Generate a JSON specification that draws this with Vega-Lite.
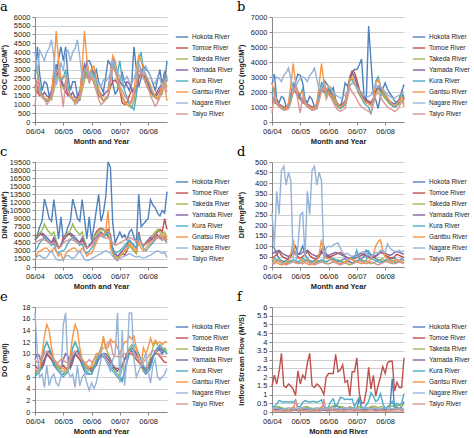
{
"$schema":"https://vega.github.io/schema/vega-lite/v6.json",
"background":"white",
"padding":{"left":0,"top":1,"right":0,"bottom":0},
"columns":2,
"spacing":{"row":1,"column":4},
"resolve":{"scale":{"color":"independent","y":"independent","x":"independent"},"legend":{"color":"independent"}},
"config":{
"view":{"stroke":null},
"title":{"font":"DejaVu Serif","fontSize":13,"fontWeight":"normal","anchor":"start","frame":"bounds","offset":-1,"color":"#000"},
"axis":{"labelFont":"Liberation Sans","labelFontSize":7.5,"labelColor":"#222","titleFont":"Liberation Sans","titleFontWeight":"bold","titleFontSize":7.5,"titleColor":"#222","tickColor":"#888","domainColor":"#888","gridColor":"#cfcfcf","tickSize":3,"labelPadding":2},
"axisY":{"minExtent":24,"maxExtent":24,"grid":true,"titlePadding":3},
"axisX":{"grid":false,"titlePadding":3,"labelFlush":false},
"line":{"strokeWidth":1.4}
},
"concat":[
{"width":132,"height":105,"title":{"text":"a"},
"data":{"values":[
{"t":0,"H":2500,"To":2100,"Ta":1800,"Y":2100,"K":2700,"G":3500,"N":4000,"Ti":900},
{"t":1,"H":4300,"To":1700,"Ta":2400,"Y":2000,"K":3000,"G":2800,"N":2800,"Ti":2500},
{"t":2,"H":2700,"To":1500,"Ta":1600,"Y":1600,"K":2000,"G":1600,"N":4100,"Ti":1700},
{"t":3,"H":1800,"To":1600,"Ta":1400,"Y":1500,"K":1500,"G":1500,"N":3800,"Ti":1500},
{"t":4,"H":2300,"To":1300,"Ta":1300,"Y":1700,"K":1300,"G":1400,"N":3500,"Ti":1300},
{"t":5,"H":2200,"To":1200,"Ta":1200,"Y":1500,"K":1200,"G":1300,"N":4000,"Ti":1000},
{"t":6,"H":1500,"To":1400,"Ta":1400,"Y":1400,"K":1200,"G":1200,"N":4200,"Ti":1200},
{"t":7,"H":1300,"To":1500,"Ta":1300,"Y":1800,"K":1500,"G":1500,"N":4700,"Ti":1400},
{"t":8,"H":2900,"To":2200,"Ta":1800,"Y":2500,"K":2200,"G":3000,"N":3700,"Ti":2000},
{"t":9,"H":2500,"To":2900,"Ta":2500,"Y":3300,"K":3100,"G":5200,"N":2100,"Ti":2800},
{"t":10,"H":3600,"To":2600,"Ta":2700,"Y":2900,"K":2800,"G":3500,"N":2600,"Ti":3000},
{"t":11,"H":4300,"To":2300,"Ta":2200,"Y":2500,"K":2400,"G":2500,"N":3400,"Ti":1900},
{"t":12,"H":3500,"To":2000,"Ta":1900,"Y":2100,"K":2500,"G":2600,"N":2900,"Ti":850},
{"t":13,"H":4300,"To":1700,"Ta":2300,"Y":2000,"K":3000,"G":2600,"N":4000,"Ti":2400},
{"t":14,"H":2600,"To":1500,"Ta":1600,"Y":1600,"K":2000,"G":1700,"N":4100,"Ti":1700},
{"t":15,"H":1800,"To":1600,"Ta":1400,"Y":1500,"K":1500,"G":1500,"N":3500,"Ti":1500},
{"t":16,"H":2300,"To":1300,"Ta":1300,"Y":1700,"K":1300,"G":1400,"N":4000,"Ti":1300},
{"t":17,"H":2300,"To":1200,"Ta":1100,"Y":1400,"K":1200,"G":1200,"N":4200,"Ti":1000},
{"t":18,"H":1500,"To":1400,"Ta":1400,"Y":1400,"K":1100,"G":1300,"N":4700,"Ti":1200},
{"t":19,"H":1200,"To":1500,"Ta":1300,"Y":1800,"K":1500,"G":1500,"N":3700,"Ti":1400},
{"t":20,"H":2900,"To":2200,"Ta":1800,"Y":2600,"K":2300,"G":3100,"N":2600,"Ti":2100},
{"t":21,"H":2600,"To":2800,"Ta":2400,"Y":3300,"K":3000,"G":5200,"N":2900,"Ti":2800},
{"t":22,"H":3500,"To":2600,"Ta":2800,"Y":2900,"K":2900,"G":3600,"N":3100,"Ti":3100},
{"t":23,"H":3500,"To":2400,"Ta":2300,"Y":2600,"K":2500,"G":2700,"N":2700,"Ti":2200},
{"t":24,"H":3200,"To":2500,"Ta":2600,"Y":3000,"K":2900,"G":3000,"N":2800,"Ti":2600},
{"t":25,"H":2700,"To":2300,"Ta":2400,"Y":2700,"K":2700,"G":3200,"N":2500,"Ti":2200},
{"t":26,"H":3000,"To":1800,"Ta":2000,"Y":2400,"K":2300,"G":2500,"N":2400,"Ti":1800},
{"t":27,"H":2300,"To":1500,"Ta":1700,"Y":1800,"K":1800,"G":1900,"N":2200,"Ti":1300},
{"t":28,"H":2000,"To":1400,"Ta":1500,"Y":1600,"K":1500,"G":1500,"N":2000,"Ti":1000},
{"t":29,"H":1700,"To":1200,"Ta":1200,"Y":1500,"K":1200,"G":1200,"N":2400,"Ti":1100},
{"t":30,"H":2600,"To":1300,"Ta":1400,"Y":1700,"K":1300,"G":1300,"N":2300,"Ti":1300},
{"t":31,"H":3500,"To":1500,"Ta":1500,"Y":1800,"K":1400,"G":1500,"N":2500,"Ti":1500},
{"t":32,"H":3300,"To":2000,"Ta":2200,"Y":2800,"K":2500,"G":2800,"N":2700,"Ti":2300},
{"t":33,"H":2200,"To":2300,"Ta":3200,"Y":3600,"K":3400,"G":3800,"N":3500,"Ti":3100},
{"t":34,"H":1600,"To":2400,"Ta":3000,"Y":3300,"K":3100,"G":3500,"N":3200,"Ti":2900},
{"t":35,"H":1800,"To":2200,"Ta":2300,"Y":2500,"K":2800,"G":2800,"N":2800,"Ti":2500},
{"t":36,"H":2400,"To":1800,"Ta":1800,"Y":2300,"K":3500,"G":2000,"N":2600,"Ti":2000},
{"t":37,"H":2800,"To":1100,"Ta":1500,"Y":2100,"K":2400,"G":1500,"N":2300,"Ti":1800},
{"t":38,"H":2300,"To":1000,"Ta":1200,"Y":2000,"K":1800,"G":1100,"N":2400,"Ti":1500},
{"t":39,"H":2100,"To":1100,"Ta":1000,"Y":2300,"K":1400,"G":1000,"N":2600,"Ti":1300},
{"t":40,"H":1800,"To":1500,"Ta":900,"Y":2200,"K":1000,"G":900,"N":2300,"Ti":1200},
{"t":41,"H":2200,"To":1800,"Ta":800,"Y":1900,"K":900,"G":1300,"N":2200,"Ti":1100},
{"t":42,"H":4300,"To":1900,"Ta":1200,"Y":1600,"K":700,"G":1800,"N":2500,"Ti":1500},
{"t":43,"H":3000,"To":1700,"Ta":2000,"Y":2000,"K":1500,"G":3000,"N":2900,"Ti":2200},
{"t":44,"H":2000,"To":2500,"Ta":3300,"Y":2900,"K":3500,"G":3800,"N":3300,"Ti":3000},
{"t":45,"H":2500,"To":2800,"Ta":3000,"Y":3000,"K":4000,"G":3500,"N":3000,"Ti":2800},
{"t":46,"H":3200,"To":2600,"Ta":2600,"Y":2700,"K":3000,"G":3000,"N":2700,"Ti":2500},
{"t":47,"H":3000,"To":2200,"Ta":2300,"Y":2500,"K":2700,"G":2600,"N":3200,"Ti":2200},
{"t":48,"H":2900,"To":1900,"Ta":2200,"Y":2200,"K":2400,"G":2400,"N":2900,"Ti":2000},
{"t":49,"H":2600,"To":1700,"Ta":1800,"Y":1800,"K":2000,"G":2100,"N":2600,"Ti":1500},
{"t":50,"H":2200,"To":1500,"Ta":1500,"Y":1600,"K":1700,"G":1700,"N":2300,"Ti":1200},
{"t":51,"H":1800,"To":1400,"Ta":1400,"Y":1500,"K":1500,"G":1500,"N":2200,"Ti":900},
{"t":52,"H":2400,"To":1600,"Ta":1300,"Y":1800,"K":1300,"G":1300,"N":2600,"Ti":1100},
{"t":53,"H":3000,"To":1800,"Ta":1500,"Y":2000,"K":1600,"G":1600,"N":2500,"Ti":1400},
{"t":54,"H":2000,"To":2000,"Ta":1600,"Y":2200,"K":2000,"G":2200,"N":2000,"Ti":1800},
{"t":55,"H":2200,"To":2900,"Ta":2400,"Y":2800,"K":2800,"G":2000,"N":2300,"Ti":2200},
{"t":56,"H":3500,"To":2500,"Ta":2000,"Y":2300,"K":2400,"G":1200,"N":2600,"Ti":1700}
]},
"transform":[{"fold":["H","To","Ta","Y","K","G","N","Ti"],"as":["r","v"]}],
"mark":{"type":"line"},
"encoding":{
"x":{"field":"t","type":"quantitative","scale":{"domain":[0,56],"nice":false,"zero":false},"axis":{"values":[0,12,24,36,48],"labelExpr":"['06/04','06/05','06/06','06/07','06/08'][datum.value/12]","title":"Month and Year"}},
"y":{"field":"v","type":"quantitative","scale":{"domain":[0,6000],"nice":false},"axis":{"values":[0,500,1000,1500,2000,2500,3000,3500,4000,4500,5000,5500,6000],"format":"d","title":"POC (MgC/M²)"}},
"color":{"field":"r","type":"nominal","scale":{"domain":["H","To","Ta","Y","K","G","N","Ti"],"range":["#4F81BD","#C0504D","#9BBB59","#8064A2","#4BACC6","#F79646","#95B3D7","#D99694"]},"legend":{"orient":"none","legendX":140,"legendY":13,"title":null,"symbolType":"stroke","symbolSize":156,"symbolStrokeWidth":2,"rowPadding":0,"labelOffset":3,"labelFont":"Liberation Sans","labelFontSize":6.5,"labelColor":"#222","labelExpr":"['Hokota River','Tomoe River','Takeda River','Yamada River','Kura River','Gantsu River','Nagare River','Taiyo River'][indexof(['H','To','Ta','Y','K','G','N','Ti'],datum.label)]"}}
}},
{"width":132,"height":105,"title":{"text":"b"},
"data":{"values":[
{"t":0,"H":2500,"To":1400,"Ta":1500,"Y":1600,"K":1800,"G":2600,"N":3100,"Ti":600},
{"t":1,"H":3200,"To":1300,"Ta":1600,"Y":1500,"K":2200,"G":2000,"N":2700,"Ti":1900},
{"t":2,"H":1500,"To":1200,"Ta":1200,"Y":1300,"K":1400,"G":1300,"N":3000,"Ti":1200},
{"t":3,"H":1300,"To":1100,"Ta":1000,"Y":1200,"K":1100,"G":1100,"N":2900,"Ti":1000},
{"t":4,"H":1700,"To":1000,"Ta":900,"Y":1100,"K":900,"G":1000,"N":2700,"Ti":900},
{"t":5,"H":1600,"To":900,"Ta":800,"Y":1000,"K":800,"G":900,"N":3100,"Ti":800},
{"t":6,"H":1000,"To":900,"Ta":900,"Y":1000,"K":900,"G":900,"N":3300,"Ti":800},
{"t":7,"H":900,"To":1100,"Ta":1000,"Y":1200,"K":1100,"G":1300,"N":3600,"Ti":900},
{"t":8,"H":1500,"To":1600,"Ta":1500,"Y":1800,"K":1800,"G":2500,"N":2900,"Ti":1300},
{"t":9,"H":2000,"To":2200,"Ta":2100,"Y":2500,"K":2600,"G":3900,"N":2000,"Ti":2100},
{"t":10,"H":2700,"To":2000,"Ta":2300,"Y":2300,"K":2400,"G":2600,"N":2300,"Ti":2300},
{"t":11,"H":3200,"To":1700,"Ta":1800,"Y":2000,"K":2000,"G":2000,"N":2700,"Ti":1400},
{"t":12,"H":3100,"To":1500,"Ta":1500,"Y":1600,"K":1800,"G":1900,"N":2900,"Ti":600},
{"t":13,"H":2600,"To":1300,"Ta":1600,"Y":1500,"K":2200,"G":2000,"N":3000,"Ti":1800},
{"t":14,"H":1500,"To":1200,"Ta":1200,"Y":1300,"K":1400,"G":1300,"N":2900,"Ti":1200},
{"t":15,"H":1300,"To":1100,"Ta":1000,"Y":1200,"K":1100,"G":1100,"N":2700,"Ti":1000},
{"t":16,"H":1700,"To":1000,"Ta":900,"Y":1100,"K":900,"G":1000,"N":3100,"Ti":900},
{"t":17,"H":1500,"To":900,"Ta":800,"Y":1000,"K":800,"G":900,"N":3300,"Ti":800},
{"t":18,"H":1000,"To":900,"Ta":900,"Y":1000,"K":900,"G":900,"N":3600,"Ti":800},
{"t":19,"H":900,"To":1100,"Ta":1000,"Y":1200,"K":1100,"G":1300,"N":2900,"Ti":900},
{"t":20,"H":1600,"To":1700,"Ta":1500,"Y":1800,"K":1800,"G":2500,"N":2100,"Ti":1400},
{"t":21,"H":2200,"To":2200,"Ta":2100,"Y":2500,"K":2600,"G":3900,"N":2300,"Ti":2100},
{"t":22,"H":2800,"To":2000,"Ta":2300,"Y":2300,"K":2400,"G":2700,"N":2600,"Ti":2300},
{"t":23,"H":2600,"To":1800,"Ta":1800,"Y":2000,"K":2000,"G":2100,"N":2500,"Ti":1500},
{"t":24,"H":2400,"To":2000,"Ta":2100,"Y":2200,"K":2300,"G":2400,"N":2400,"Ti":1900},
{"t":25,"H":2000,"To":1800,"Ta":1900,"Y":2000,"K":2100,"G":2300,"N":2200,"Ti":1600},
{"t":26,"H":2300,"To":1500,"Ta":1500,"Y":1700,"K":1800,"G":1800,"N":2000,"Ti":1300},
{"t":27,"H":1500,"To":1200,"Ta":1200,"Y":1400,"K":1400,"G":1400,"N":1800,"Ti":1000},
{"t":28,"H":1200,"To":1000,"Ta":1000,"Y":1200,"K":1100,"G":1200,"N":1700,"Ti":800},
{"t":29,"H":1000,"To":900,"Ta":900,"Y":1100,"K":900,"G":1000,"N":1600,"Ti":700},
{"t":30,"H":1600,"To":1100,"Ta":1000,"Y":1200,"K":1000,"G":1100,"N":1700,"Ti":800},
{"t":31,"H":2600,"To":1300,"Ta":1200,"Y":1400,"K":1200,"G":1300,"N":1800,"Ti":900},
{"t":32,"H":2400,"To":2000,"Ta":1800,"Y":2000,"K":2000,"G":2000,"N":2000,"Ti":1600},
{"t":33,"H":2800,"To":3000,"Ta":2700,"Y":2800,"K":2900,"G":2800,"N":2400,"Ti":2300},
{"t":34,"H":3300,"To":3400,"Ta":3000,"Y":3300,"K":2800,"G":3000,"N":2600,"Ti":2000},
{"t":35,"H":3500,"To":3300,"Ta":2600,"Y":3000,"K":2500,"G":2600,"N":2500,"Ti":1800},
{"t":36,"H":3500,"To":2800,"Ta":2200,"Y":2500,"K":2300,"G":2300,"N":2300,"Ti":1500},
{"t":37,"H":3800,"To":2200,"Ta":1800,"Y":2000,"K":1900,"G":2000,"N":2100,"Ti":1200},
{"t":38,"H":4200,"To":1800,"Ta":1600,"Y":1800,"K":1600,"G":1700,"N":2000,"Ti":1000},
{"t":39,"H":1800,"To":1500,"Ta":1400,"Y":1600,"K":1300,"G":1400,"N":1800,"Ti":900},
{"t":40,"H":1500,"To":1400,"Ta":1300,"Y":1500,"K":1100,"G":1300,"N":1700,"Ti":800},
{"t":41,"H":6400,"To":1300,"Ta":1200,"Y":1400,"K":1000,"G":1200,"N":1700,"Ti":700},
{"t":42,"H":4000,"To":1200,"Ta":1100,"Y":1300,"K":500,"G":1100,"N":1800,"Ti":600},
{"t":43,"H":1800,"To":1500,"Ta":1400,"Y":1600,"K":1500,"G":1500,"N":2200,"Ti":1200},
{"t":44,"H":1500,"To":2000,"Ta":1900,"Y":2100,"K":2700,"G":2600,"N":2500,"Ti":1800},
{"t":45,"H":900,"To":2300,"Ta":2200,"Y":2400,"K":3000,"G":2800,"N":2300,"Ti":2000},
{"t":46,"H":1700,"To":2100,"Ta":2000,"Y":2200,"K":2400,"G":2400,"N":2400,"Ti":1700},
{"t":47,"H":2200,"To":1800,"Ta":1800,"Y":2000,"K":2000,"G":2100,"N":2200,"Ti":1400},
{"t":48,"H":2600,"To":1600,"Ta":1600,"Y":1800,"K":1800,"G":1900,"N":2000,"Ti":1200},
{"t":49,"H":2200,"To":1400,"Ta":1400,"Y":1600,"K":1500,"G":1600,"N":1800,"Ti":1000},
{"t":50,"H":1900,"To":1200,"Ta":1200,"Y":1400,"K":1300,"G":1400,"N":1700,"Ti":900},
{"t":51,"H":1700,"To":1100,"Ta":1100,"Y":1300,"K":1100,"G":1200,"N":1600,"Ti":800},
{"t":52,"H":1400,"To":1000,"Ta":1000,"Y":1200,"K":1000,"G":1100,"N":1600,"Ti":700},
{"t":53,"H":1300,"To":1100,"Ta":1100,"Y":1300,"K":1100,"G":1200,"N":1700,"Ti":800},
{"t":54,"H":1500,"To":1300,"Ta":1200,"Y":1500,"K":1300,"G":1400,"N":1800,"Ti":1000},
{"t":55,"H":2000,"To":2000,"Ta":1700,"Y":2000,"K":1900,"G":1700,"N":1900,"Ti":1400},
{"t":56,"H":2500,"To":1600,"Ta":1300,"Y":1500,"K":1500,"G":1000,"N":2000,"Ti":1200}
]},
"transform":[{"fold":["H","To","Ta","Y","K","G","N","Ti"],"as":["r","v"]}],
"mark":{"type":"line"},
"encoding":{
"x":{"field":"t","type":"quantitative","scale":{"domain":[0,56],"nice":false,"zero":false},"axis":{"values":[0,12,24,36,48],"labelExpr":"['06/04','06/05','06/06','06/07','06/08'][datum.value/12]","title":"Month and Year"}},
"y":{"field":"v","type":"quantitative","scale":{"domain":[0,7000],"nice":false},"axis":{"values":[0,1000,2000,3000,4000,5000,6000,7000],"format":"d","title":"DOC (mgC/M²)"}},
"color":{"field":"r","type":"nominal","scale":{"domain":["H","To","Ta","Y","K","G","N","Ti"],"range":["#4F81BD","#C0504D","#9BBB59","#8064A2","#4BACC6","#F79646","#95B3D7","#D99694"]},"legend":{"orient":"none","legendX":140,"legendY":13,"title":null,"symbolType":"stroke","symbolSize":156,"symbolStrokeWidth":2,"rowPadding":0,"labelOffset":3,"labelFont":"Liberation Sans","labelFontSize":6.5,"labelColor":"#222","labelExpr":"['Hokota River','Tomoe River','Takeda River','Yamada River','Kura River','Gantsu River','Nagare River','Taiyo River'][indexof(['H','To','Ta','Y','K','G','N','Ti'],datum.label)]"}}
}},
{"width":132,"height":105,"title":{"text":"c"},
"data":{"values":[
{"t":0,"H":5000,"To":5500,"Ta":5000,"Y":5000,"K":3000,"G":1200,"N":1500,"Ti":4500},
{"t":1,"H":6000,"To":6000,"Ta":5800,"Y":5500,"K":3500,"G":2500,"N":2000,"Ti":4800},
{"t":2,"H":7500,"To":6200,"Ta":6300,"Y":6000,"K":4500,"G":3000,"N":2200,"Ti":5000},
{"t":3,"H":8500,"To":6000,"Ta":6800,"Y":6300,"K":5000,"G":3200,"N":1800,"Ti":5200},
{"t":4,"H":12600,"To":5500,"Ta":8000,"Y":6000,"K":5500,"G":3500,"N":1600,"Ti":5000},
{"t":5,"H":11000,"To":5000,"Ta":7000,"Y":5500,"K":5000,"G":3500,"N":1800,"Ti":4800},
{"t":6,"H":9000,"To":4500,"Ta":6500,"Y":5000,"K":4500,"G":3000,"N":2500,"Ti":4500},
{"t":7,"H":8500,"To":4200,"Ta":6000,"Y":4500,"K":4000,"G":2800,"N":3000,"Ti":4300},
{"t":8,"H":12500,"To":5000,"Ta":6500,"Y":5500,"K":4500,"G":3500,"N":2200,"Ti":4600},
{"t":9,"H":9000,"To":4000,"Ta":5000,"Y":4500,"K":3000,"G":3000,"N":1500,"Ti":4000},
{"t":10,"H":5200,"To":3500,"Ta":3500,"Y":3500,"K":2500,"G":2000,"N":1200,"Ti":3500},
{"t":11,"H":9300,"To":4000,"Ta":4000,"Y":4000,"K":3000,"G":2500,"N":1300,"Ti":3800},
{"t":12,"H":5000,"To":5500,"Ta":5000,"Y":5000,"K":3000,"G":1200,"N":1500,"Ti":4500},
{"t":13,"H":6000,"To":6000,"Ta":5800,"Y":5500,"K":3500,"G":2500,"N":2000,"Ti":4800},
{"t":14,"H":7500,"To":6200,"Ta":6300,"Y":6000,"K":4500,"G":3000,"N":2200,"Ti":5000},
{"t":15,"H":8500,"To":6000,"Ta":6800,"Y":6300,"K":5000,"G":3200,"N":1800,"Ti":5200},
{"t":16,"H":12600,"To":5500,"Ta":8000,"Y":6000,"K":5500,"G":3500,"N":1600,"Ti":5000},
{"t":17,"H":11000,"To":5000,"Ta":7000,"Y":5500,"K":5000,"G":3500,"N":1800,"Ti":4800},
{"t":18,"H":9000,"To":4500,"Ta":6500,"Y":5000,"K":4500,"G":3000,"N":2500,"Ti":4500},
{"t":19,"H":8500,"To":4200,"Ta":6000,"Y":4500,"K":4000,"G":2800,"N":3000,"Ti":4300},
{"t":20,"H":12500,"To":5000,"Ta":6500,"Y":5500,"K":4500,"G":3500,"N":2200,"Ti":4600},
{"t":21,"H":9000,"To":4000,"Ta":5000,"Y":4500,"K":3000,"G":3000,"N":1500,"Ti":4000},
{"t":22,"H":5200,"To":3500,"Ta":3500,"Y":3500,"K":2500,"G":2000,"N":1200,"Ti":3500},
{"t":23,"H":9300,"To":4000,"Ta":4000,"Y":4000,"K":3000,"G":2500,"N":1300,"Ti":3800},
{"t":24,"H":5000,"To":4500,"Ta":4500,"Y":4500,"K":3500,"G":2500,"N":1500,"Ti":4000},
{"t":25,"H":7500,"To":5500,"Ta":5500,"Y":5000,"K":4000,"G":3500,"N":1800,"Ti":4500},
{"t":26,"H":10500,"To":6500,"Ta":6000,"Y":5500,"K":5000,"G":4500,"N":2000,"Ti":5000},
{"t":27,"H":13500,"To":7000,"Ta":6500,"Y":6000,"K":5500,"G":5500,"N":2300,"Ti":5500},
{"t":28,"H":8500,"To":7200,"Ta":7000,"Y":6500,"K":6000,"G":6000,"N":2500,"Ti":5800},
{"t":29,"H":10000,"To":7000,"Ta":6800,"Y":6000,"K":5500,"G":6000,"N":2800,"Ti":5600},
{"t":30,"H":13000,"To":6500,"Ta":6500,"Y":6500,"K":6000,"G":6500,"N":3000,"Ti":5300},
{"t":31,"H":19500,"To":7000,"Ta":6000,"Y":5500,"K":6500,"G":10500,"N":2800,"Ti":5500},
{"t":32,"H":18500,"To":6000,"Ta":5500,"Y":5000,"K":5500,"G":3500,"N":2600,"Ti":5200},
{"t":33,"H":8000,"To":3000,"Ta":3500,"Y":3500,"K":3000,"G":2500,"N":2000,"Ti":4500},
{"t":34,"H":4500,"To":1500,"Ta":2000,"Y":2500,"K":2500,"G":1500,"N":1500,"Ti":4000},
{"t":35,"H":5500,"To":1200,"Ta":1500,"Y":2000,"K":2800,"G":1500,"N":1300,"Ti":4200},
{"t":36,"H":6500,"To":2000,"Ta":2200,"Y":2500,"K":3000,"G":2000,"N":1500,"Ti":4500},
{"t":37,"H":5500,"To":2500,"Ta":2500,"Y":3000,"K":3500,"G":2500,"N":1800,"Ti":4700},
{"t":38,"H":6000,"To":2200,"Ta":3000,"Y":3500,"K":4000,"G":3000,"N":2000,"Ti":5000},
{"t":39,"H":5000,"To":3000,"Ta":3200,"Y":4000,"K":4500,"G":3500,"N":2200,"Ti":5200},
{"t":40,"H":6500,"To":4000,"Ta":4000,"Y":5000,"K":5000,"G":4500,"N":2500,"Ti":5500},
{"t":41,"H":7000,"To":3500,"Ta":3500,"Y":4500,"K":4500,"G":4000,"N":2300,"Ti":5300},
{"t":42,"H":5500,"To":3000,"Ta":3000,"Y":4000,"K":4000,"G":3500,"N":2000,"Ti":5000},
{"t":43,"H":4500,"To":2500,"Ta":2500,"Y":3500,"K":3500,"G":3000,"N":1800,"Ti":4800},
{"t":44,"H":13500,"To":6500,"Ta":5500,"Y":5500,"K":6000,"G":4500,"N":2000,"Ti":5000},
{"t":45,"H":7500,"To":4500,"Ta":4500,"Y":4500,"K":4500,"G":3500,"N":1800,"Ti":4500},
{"t":46,"H":8000,"To":4000,"Ta":4000,"Y":4000,"K":3500,"G":3000,"N":1700,"Ti":4200},
{"t":47,"H":8500,"To":4200,"Ta":4500,"Y":4500,"K":3000,"G":3500,"N":1800,"Ti":4300},
{"t":48,"H":9000,"To":4500,"Ta":5000,"Y":5000,"K":3500,"G":4000,"N":2000,"Ti":4500},
{"t":49,"H":12500,"To":5000,"Ta":5500,"Y":5500,"K":4000,"G":4500,"N":2200,"Ti":4700},
{"t":50,"H":11500,"To":5500,"Ta":6000,"Y":5000,"K":4500,"G":5000,"N":2500,"Ti":5000},
{"t":51,"H":11000,"To":6000,"Ta":6500,"Y":5500,"K":5000,"G":5000,"N":2800,"Ti":5200},
{"t":52,"H":10000,"To":6500,"Ta":7000,"Y":6000,"K":5500,"G":5500,"N":3000,"Ti":5500},
{"t":53,"H":9500,"To":7000,"Ta":6500,"Y":5500,"K":6000,"G":6000,"N":2800,"Ti":5200},
{"t":54,"H":10500,"To":6500,"Ta":6000,"Y":5000,"K":5500,"G":5500,"N":2500,"Ti":5000},
{"t":55,"H":10000,"To":9000,"Ta":6500,"Y":5500,"K":5000,"G":6000,"N":2800,"Ti":5300},
{"t":56,"H":14000,"To":7000,"Ta":5500,"Y":5000,"K":4500,"G":5000,"N":1700,"Ti":4800}
]},
"transform":[{"fold":["H","To","Ta","Y","K","G","N","Ti"],"as":["r","v"]}],
"mark":{"type":"line"},
"encoding":{
"x":{"field":"t","type":"quantitative","scale":{"domain":[0,56],"nice":false,"zero":false},"axis":{"values":[0,12,24,36,48],"labelExpr":"['06/04','06/05','06/06','06/07','06/08'][datum.value/12]","title":"Month and Year"}},
"y":{"field":"v","type":"quantitative","scale":{"domain":[0,19500],"nice":false},"axis":{"values":[0,1500,3000,4500,6000,7500,9000,10500,12000,13500,15000,16500,18000,19500],"format":"d","title":"DIN (mgN/M²)"}},
"color":{"field":"r","type":"nominal","scale":{"domain":["H","To","Ta","Y","K","G","N","Ti"],"range":["#4F81BD","#C0504D","#9BBB59","#8064A2","#4BACC6","#F79646","#95B3D7","#D99694"]},"legend":{"orient":"none","legendX":140,"legendY":13,"title":null,"symbolType":"stroke","symbolSize":156,"symbolStrokeWidth":2,"rowPadding":0,"labelOffset":3,"labelFont":"Liberation Sans","labelFontSize":6.5,"labelColor":"#222","labelExpr":"['Hokota River','Tomoe River','Takeda River','Yamada River','Kura River','Gnatsu River','Nagare River','Taiyo River'][indexof(['H','To','Ta','Y','K','G','N','Ti'],datum.label)]"}}
}},
{"width":132,"height":105,"title":{"text":"d"},
"data":{"values":[
{"t":0,"H":100,"To":40,"Ta":20,"Y":60,"K":30,"G":40,"N":260,"Ti":20},
{"t":1,"H":90,"To":50,"Ta":25,"Y":70,"K":40,"G":30,"N":100,"Ti":15},
{"t":2,"H":60,"To":60,"Ta":30,"Y":75,"K":35,"G":20,"N":360,"Ti":25},
{"t":3,"H":40,"To":75,"Ta":35,"Y":80,"K":25,"G":15,"N":250,"Ti":30},
{"t":4,"H":30,"To":55,"Ta":25,"Y":70,"K":20,"G":10,"N":460,"Ti":20},
{"t":5,"H":25,"To":45,"Ta":20,"Y":60,"K":15,"G":15,"N":480,"Ti":15},
{"t":6,"H":30,"To":40,"Ta":15,"Y":55,"K":20,"G":20,"N":390,"Ti":10},
{"t":7,"H":40,"To":35,"Ta":20,"Y":50,"K":25,"G":30,"N":450,"Ti":15},
{"t":8,"H":60,"To":50,"Ta":25,"Y":60,"K":30,"G":60,"N":410,"Ti":20},
{"t":9,"H":80,"To":70,"Ta":30,"Y":75,"K":35,"G":130,"N":30,"Ti":25},
{"t":10,"H":100,"To":60,"Ta":25,"Y":70,"K":30,"G":60,"N":20,"Ti":20},
{"t":11,"H":60,"To":50,"Ta":20,"Y":60,"K":25,"G":40,"N":100,"Ti":15},
{"t":12,"H":70,"To":40,"Ta":20,"Y":60,"K":30,"G":40,"N":250,"Ti":20},
{"t":13,"H":100,"To":50,"Ta":25,"Y":70,"K":40,"G":30,"N":260,"Ti":15},
{"t":14,"H":60,"To":60,"Ta":30,"Y":75,"K":35,"G":20,"N":50,"Ti":25},
{"t":15,"H":40,"To":75,"Ta":35,"Y":80,"K":25,"G":15,"N":360,"Ti":30},
{"t":16,"H":30,"To":55,"Ta":25,"Y":70,"K":20,"G":10,"N":250,"Ti":20},
{"t":17,"H":25,"To":45,"Ta":20,"Y":60,"K":15,"G":15,"N":460,"Ti":15},
{"t":18,"H":30,"To":40,"Ta":15,"Y":55,"K":20,"G":20,"N":480,"Ti":10},
{"t":19,"H":40,"To":35,"Ta":20,"Y":50,"K":25,"G":30,"N":390,"Ti":15},
{"t":20,"H":60,"To":50,"Ta":25,"Y":60,"K":30,"G":60,"N":450,"Ti":20},
{"t":21,"H":80,"To":70,"Ta":30,"Y":75,"K":35,"G":130,"N":410,"Ti":25},
{"t":22,"H":100,"To":60,"Ta":25,"Y":70,"K":30,"G":60,"N":30,"Ti":20},
{"t":23,"H":60,"To":50,"Ta":20,"Y":60,"K":25,"G":40,"N":90,"Ti":15},
{"t":24,"H":50,"To":45,"Ta":15,"Y":55,"K":30,"G":40,"N":100,"Ti":15},
{"t":25,"H":40,"To":50,"Ta":20,"Y":60,"K":35,"G":35,"N":95,"Ti":20},
{"t":26,"H":35,"To":55,"Ta":25,"Y":65,"K":40,"G":30,"N":105,"Ti":25},
{"t":27,"H":30,"To":60,"Ta":30,"Y":70,"K":35,"G":25,"N":110,"Ti":20},
{"t":28,"H":25,"To":65,"Ta":35,"Y":65,"K":30,"G":20,"N":115,"Ti":15},
{"t":29,"H":30,"To":70,"Ta":30,"Y":60,"K":25,"G":15,"N":90,"Ti":10},
{"t":30,"H":35,"To":60,"Ta":25,"Y":55,"K":20,"G":20,"N":70,"Ti":15},
{"t":31,"H":40,"To":50,"Ta":20,"Y":50,"K":25,"G":25,"N":60,"Ti":20},
{"t":32,"H":30,"To":45,"Ta":15,"Y":45,"K":30,"G":30,"N":65,"Ti":25},
{"t":33,"H":25,"To":40,"Ta":10,"Y":40,"K":35,"G":40,"N":55,"Ti":20},
{"t":34,"H":20,"To":35,"Ta":15,"Y":45,"K":40,"G":35,"N":50,"Ti":15},
{"t":35,"H":25,"To":40,"Ta":20,"Y":50,"K":45,"G":30,"N":55,"Ti":20},
{"t":36,"H":30,"To":45,"Ta":25,"Y":55,"K":80,"G":25,"N":60,"Ti":25},
{"t":37,"H":35,"To":50,"Ta":30,"Y":60,"K":40,"G":20,"N":65,"Ti":30},
{"t":38,"H":40,"To":55,"Ta":35,"Y":65,"K":30,"G":15,"N":70,"Ti":25},
{"t":39,"H":50,"To":60,"Ta":30,"Y":60,"K":25,"G":20,"N":75,"Ti":20},
{"t":40,"H":80,"To":50,"Ta":25,"Y":55,"K":30,"G":30,"N":60,"Ti":15},
{"t":41,"H":70,"To":45,"Ta":20,"Y":50,"K":80,"G":25,"N":55,"Ti":20},
{"t":42,"H":60,"To":40,"Ta":15,"Y":45,"K":40,"G":40,"N":50,"Ti":25},
{"t":43,"H":50,"To":45,"Ta":20,"Y":50,"K":35,"G":60,"N":60,"Ti":20},
{"t":44,"H":40,"To":50,"Ta":25,"Y":55,"K":30,"G":100,"N":70,"Ti":15},
{"t":45,"H":35,"To":60,"Ta":30,"Y":60,"K":25,"G":120,"N":65,"Ti":10},
{"t":46,"H":30,"To":70,"Ta":35,"Y":70,"K":20,"G":130,"N":80,"Ti":15},
{"t":47,"H":25,"To":65,"Ta":40,"Y":75,"K":25,"G":80,"N":75,"Ti":20},
{"t":48,"H":30,"To":55,"Ta":30,"Y":65,"K":30,"G":50,"N":70,"Ti":25},
{"t":49,"H":35,"To":50,"Ta":25,"Y":60,"K":40,"G":40,"N":110,"Ti":30},
{"t":50,"H":40,"To":45,"Ta":20,"Y":55,"K":35,"G":30,"N":90,"Ti":25},
{"t":51,"H":45,"To":40,"Ta":15,"Y":60,"K":30,"G":25,"N":80,"Ti":20},
{"t":52,"H":40,"To":50,"Ta":20,"Y":70,"K":25,"G":30,"N":75,"Ti":15},
{"t":53,"H":35,"To":60,"Ta":25,"Y":75,"K":20,"G":35,"N":70,"Ti":20},
{"t":54,"H":30,"To":55,"Ta":30,"Y":70,"K":30,"G":30,"N":80,"Ti":25},
{"t":55,"H":40,"To":50,"Ta":25,"Y":65,"K":25,"G":25,"N":70,"Ti":20},
{"t":56,"H":30,"To":45,"Ta":20,"Y":60,"K":20,"G":20,"N":80,"Ti":15}
]},
"transform":[{"fold":["H","To","Ta","Y","K","G","N","Ti"],"as":["r","v"]}],
"mark":{"type":"line"},
"encoding":{
"x":{"field":"t","type":"quantitative","scale":{"domain":[0,56],"nice":false,"zero":false},"axis":{"values":[0,12,24,36,48],"labelExpr":"['06/04','06/05','06/06','06/07','06/08'][datum.value/12]","title":"Month and Year"}},
"y":{"field":"v","type":"quantitative","scale":{"domain":[0,500],"nice":false},"axis":{"values":[0,50,100,150,200,250,300,350,400,450,500],"format":"d","title":"DIP (mgP/M²)"}},
"color":{"field":"r","type":"nominal","scale":{"domain":["H","To","Ta","Y","K","G","N","Ti"],"range":["#4F81BD","#C0504D","#9BBB59","#8064A2","#4BACC6","#F79646","#95B3D7","#D99694"]},"legend":{"orient":"none","legendX":140,"legendY":13,"title":null,"symbolType":"stroke","symbolSize":156,"symbolStrokeWidth":2,"rowPadding":0,"labelOffset":3,"labelFont":"Liberation Sans","labelFontSize":6.5,"labelColor":"#222","labelExpr":"['Hokota River','Tomoe River','Takeda River','Yamada River','Kura River','Gantbu River','Nagare River','Taiyo River'][indexof(['H','To','Ta','Y','K','G','N','Ti'],datum.label)]"}}
}},
{"width":132,"height":105,"title":{"text":"e"},
"data":{"values":[
{"t":0,"H":6.5,"To":8,"Ta":7,"Y":9,"K":6,"G":7.5,"N":17,"Ti":9},
{"t":1,"H":7,"To":7.5,"Ta":6.5,"Y":10,"K":6.5,"G":7,"N":10,"Ti":8.5},
{"t":2,"H":7,"To":7.5,"Ta":7,"Y":9.5,"K":7,"G":7.5,"N":6,"Ti":8.5},
{"t":3,"H":8,"To":8,"Ta":9,"Y":7.5,"K":9,"G":10,"N":6.5,"Ti":9},
{"t":4,"H":9,"To":9,"Ta":11,"Y":8.5,"K":11,"G":13,"N":4.2,"Ti":10},
{"t":5,"H":10,"To":9.8,"Ta":12,"Y":10,"K":12,"G":15,"N":8,"Ti":10.5},
{"t":6,"H":9.5,"To":9.5,"Ta":11,"Y":10.5,"K":11,"G":14,"N":4.5,"Ti":10},
{"t":7,"H":9,"To":9,"Ta":10,"Y":9.5,"K":10,"G":11,"N":6,"Ti":9.5},
{"t":8,"H":8,"To":8.5,"Ta":9,"Y":9,"K":8.5,"G":9,"N":6.5,"Ti":9},
{"t":9,"H":7.5,"To":8,"Ta":8,"Y":8.5,"K":7.5,"G":8.5,"N":5,"Ti":8.5},
{"t":10,"H":7,"To":7.5,"Ta":7.5,"Y":8,"K":7,"G":8,"N":4.5,"Ti":8.5},
{"t":11,"H":6.5,"To":7.5,"Ta":7,"Y":7.5,"K":6.5,"G":7.5,"N":6,"Ti":9},
{"t":12,"H":6.5,"To":8,"Ta":7,"Y":9,"K":6,"G":7.5,"N":15,"Ti":9},
{"t":13,"H":7,"To":7.5,"Ta":6.5,"Y":10,"K":6.5,"G":7,"N":17,"Ti":8.5},
{"t":14,"H":7.5,"To":7.5,"Ta":7,"Y":9.5,"K":7,"G":7.5,"N":7,"Ti":8.5},
{"t":15,"H":8.5,"To":8,"Ta":9,"Y":7.5,"K":9,"G":10,"N":6,"Ti":9},
{"t":16,"H":9.5,"To":9,"Ta":11,"Y":8.5,"K":11,"G":13,"N":6.5,"Ti":10},
{"t":17,"H":10,"To":9.8,"Ta":12,"Y":10,"K":12,"G":15,"N":4.2,"Ti":10.5},
{"t":18,"H":9.5,"To":9.5,"Ta":11,"Y":10.5,"K":11,"G":14,"N":8,"Ti":10},
{"t":19,"H":9,"To":9,"Ta":10,"Y":9.5,"K":10,"G":11,"N":4.5,"Ti":9.5},
{"t":20,"H":8,"To":8.5,"Ta":9,"Y":9,"K":8.5,"G":9,"N":6,"Ti":9},
{"t":21,"H":7,"To":8,"Ta":8,"Y":8.5,"K":7.5,"G":8.5,"N":6.5,"Ti":8.5},
{"t":22,"H":6.5,"To":7.5,"Ta":7.5,"Y":8,"K":7,"G":8,"N":5,"Ti":8.5},
{"t":23,"H":6.5,"To":7.5,"Ta":7,"Y":7.5,"K":6.5,"G":7.5,"N":3.7,"Ti":9},
{"t":24,"H":6.5,"To":7.5,"Ta":7,"Y":7,"K":6.5,"G":8,"N":5,"Ti":8.5},
{"t":25,"H":7.5,"To":8,"Ta":8,"Y":7.5,"K":7.5,"G":9,"N":4,"Ti":9},
{"t":26,"H":8.5,"To":9,"Ta":9,"Y":8,"K":8.5,"G":10,"N":5,"Ti":9.5},
{"t":27,"H":9.5,"To":9.5,"Ta":10,"Y":9,"K":9.5,"G":10,"N":7,"Ti":10},
{"t":28,"H":9.8,"To":10,"Ta":11,"Y":9.5,"K":10,"G":10,"N":9,"Ti":10.5},
{"t":29,"H":9.5,"To":10,"Ta":12.5,"Y":10,"K":10,"G":13,"N":10,"Ti":11},
{"t":30,"H":9,"To":9.5,"Ta":11,"Y":10,"K":9,"G":11,"N":9,"Ti":11},
{"t":31,"H":8.5,"To":9,"Ta":10,"Y":9.5,"K":8,"G":11,"N":8,"Ti":12},
{"t":32,"H":8,"To":8.5,"Ta":9,"Y":9,"K":7.5,"G":12.5,"N":7,"Ti":12},
{"t":33,"H":7.5,"To":8,"Ta":8,"Y":8,"K":7,"G":12,"N":9,"Ti":10},
{"t":34,"H":7,"To":7.5,"Ta":7,"Y":7.5,"K":6.5,"G":12,"N":10,"Ti":9.5},
{"t":35,"H":6.5,"To":7.5,"Ta":6.5,"Y":7,"K":6,"G":11,"N":17,"Ti":9.5},
{"t":36,"H":6,"To":7.3,"Ta":6,"Y":7.5,"K":5.5,"G":10,"N":5,"Ti":9.5},
{"t":37,"H":5.5,"To":8,"Ta":7.5,"Y":8,"K":5.2,"G":11,"N":14,"Ti":9.5},
{"t":38,"H":7,"To":9,"Ta":9,"Y":9,"K":7,"G":12,"N":4.5,"Ti":10},
{"t":39,"H":8.5,"To":9.5,"Ta":10,"Y":10,"K":9,"G":12,"N":9,"Ti":10},
{"t":40,"H":10,"To":10,"Ta":11,"Y":10.5,"K":10,"G":13,"N":17,"Ti":10.5},
{"t":41,"H":10.5,"To":10,"Ta":11.5,"Y":11,"K":11,"G":12.5,"N":17,"Ti":10},
{"t":42,"H":10,"To":9.5,"Ta":11,"Y":10.5,"K":11.5,"G":13,"N":9,"Ti":10},
{"t":43,"H":9.5,"To":9,"Ta":10,"Y":10,"K":11,"G":11,"N":6,"Ti":9.5},
{"t":44,"H":9,"To":8.5,"Ta":9,"Y":9,"K":10,"G":9,"N":7,"Ti":9},
{"t":45,"H":8,"To":8,"Ta":8,"Y":8,"K":9,"G":8,"N":8,"Ti":8.5},
{"t":46,"H":7,"To":7.5,"Ta":7,"Y":7.5,"K":8,"G":11,"N":9,"Ti":8.5},
{"t":47,"H":6.5,"To":7.5,"Ta":7,"Y":7,"K":7,"G":10,"N":10,"Ti":9},
{"t":48,"H":7,"To":8,"Ta":8,"Y":7.5,"K":6.8,"G":11,"N":7,"Ti":9.5},
{"t":49,"H":8,"To":9,"Ta":9.5,"Y":8.5,"K":7.5,"G":12.7,"N":5,"Ti":10},
{"t":50,"H":9.5,"To":9.5,"Ta":11,"Y":9.5,"K":9,"G":11.5,"N":8,"Ti":10.5},
{"t":51,"H":10.5,"To":10,"Ta":12,"Y":10,"K":10.5,"G":12.3,"N":9,"Ti":10.5},
{"t":52,"H":11,"To":10,"Ta":11.5,"Y":10.5,"K":11,"G":11.8,"N":6,"Ti":10},
{"t":53,"H":10.5,"To":9.5,"Ta":11,"Y":11,"K":11.5,"G":12,"N":5.5,"Ti":10},
{"t":54,"H":10,"To":9,"Ta":10.5,"Y":10.5,"K":11,"G":11.5,"N":6,"Ti":9.5},
{"t":55,"H":10.5,"To":8.5,"Ta":11,"Y":10.5,"K":10.5,"G":12,"N":6.5,"Ti":9.5},
{"t":56,"H":10,"To":8.5,"Ta":10.5,"Y":10,"K":10,"G":12,"N":7.5,"Ti":9.5}
]},
"transform":[{"fold":["H","To","Ta","Y","K","G","N","Ti"],"as":["r","v"]}],
"mark":{"type":"line"},
"encoding":{
"x":{"field":"t","type":"quantitative","scale":{"domain":[0,56],"nice":false,"zero":false},"axis":{"values":[0,12,24,36,48],"labelExpr":"['06/04','06/05','06/06','06/07','06/08'][datum.value/12]","title":"Month and Year"}},
"y":{"field":"v","type":"quantitative","scale":{"domain":[0,18],"nice":false},"axis":{"values":[0,2,4,6,8,10,12,14,16,18],"format":"d","title":"DO (mg/l)"}},
"color":{"field":"r","type":"nominal","scale":{"domain":["H","To","Ta","Y","K","G","N","Ti"],"range":["#4F81BD","#C0504D","#9BBB59","#8064A2","#4BACC6","#F79646","#95B3D7","#D99694"]},"legend":{"orient":"none","legendX":140,"legendY":13,"title":null,"symbolType":"stroke","symbolSize":156,"symbolStrokeWidth":2,"rowPadding":0,"labelOffset":3,"labelFont":"Liberation Sans","labelFontSize":6.5,"labelColor":"#222","labelExpr":"['Hokota River','Tomoe River','Takeda River','Yamada River','Kura River','Gantsu River','Nagare River','Taiyo River'][indexof(['H','To','Ta','Y','K','G','N','Ti'],datum.label)]"}}
}},
{"width":132,"height":105,"title":{"text":"f"},
"data":{"values":[
{"t":0,"H":0.2,"To":1.5,"Ta":0.2,"Y":0.1,"K":0.35,"G":0.15,"N":0.2,"Ti":0.05},
{"t":1,"H":0.15,"To":2.1,"Ta":0.25,"Y":0.12,"K":0.3,"G":0.1,"N":0.25,"Ti":0.05},
{"t":2,"H":0.2,"To":1.6,"Ta":0.3,"Y":0.15,"K":0.45,"G":0.08,"N":0.2,"Ti":0.06},
{"t":3,"H":0.25,"To":2.3,"Ta":0.3,"Y":0.15,"K":0.65,"G":0.06,"N":0.18,"Ti":0.08},
{"t":4,"H":0.2,"To":3.35,"Ta":0.25,"Y":0.12,"K":0.6,"G":0.05,"N":0.15,"Ti":0.06},
{"t":5,"H":0.15,"To":1.5,"Ta":0.2,"Y":0.1,"K":0.55,"G":0.05,"N":0.15,"Ti":0.05},
{"t":6,"H":0.1,"To":1.4,"Ta":0.2,"Y":0.1,"K":0.6,"G":0.06,"N":0.2,"Ti":0.05},
{"t":7,"H":0.1,"To":1.6,"Ta":0.15,"Y":0.08,"K":0.55,"G":0.1,"N":0.25,"Ti":0.05},
{"t":8,"H":0.15,"To":1.5,"Ta":0.2,"Y":0.1,"K":0.6,"G":0.2,"N":0.2,"Ti":0.06},
{"t":9,"H":0.2,"To":1.3,"Ta":0.2,"Y":0.12,"K":0.55,"G":0.3,"N":0.18,"Ti":0.05},
{"t":10,"H":0.15,"To":0.95,"Ta":0.15,"Y":0.1,"K":0.7,"G":0.2,"N":0.15,"Ti":0.7},
{"t":11,"H":0.1,"To":2.35,"Ta":0.15,"Y":0.08,"K":0.3,"G":0.15,"N":0.2,"Ti":0.05},
{"t":12,"H":0.2,"To":1.6,"Ta":0.2,"Y":0.1,"K":0.3,"G":0.15,"N":0.2,"Ti":0.05},
{"t":13,"H":0.15,"To":2.1,"Ta":0.25,"Y":0.12,"K":0.55,"G":0.1,"N":0.25,"Ti":0.05},
{"t":14,"H":0.2,"To":1.9,"Ta":0.3,"Y":0.15,"K":0.65,"G":0.08,"N":0.2,"Ti":0.06},
{"t":15,"H":0.25,"To":2.8,"Ta":0.3,"Y":0.15,"K":0.6,"G":0.06,"N":0.18,"Ti":0.08},
{"t":16,"H":0.2,"To":3.35,"Ta":0.25,"Y":0.12,"K":0.55,"G":0.05,"N":0.15,"Ti":0.06},
{"t":17,"H":0.15,"To":1.5,"Ta":0.2,"Y":0.1,"K":0.6,"G":0.05,"N":0.15,"Ti":0.05},
{"t":18,"H":0.1,"To":1.4,"Ta":0.2,"Y":0.1,"K":0.6,"G":0.06,"N":0.2,"Ti":0.05},
{"t":19,"H":0.1,"To":1.6,"Ta":0.15,"Y":0.08,"K":0.55,"G":0.1,"N":0.25,"Ti":0.05},
{"t":20,"H":0.15,"To":1.5,"Ta":0.2,"Y":0.1,"K":0.6,"G":0.2,"N":0.2,"Ti":0.06},
{"t":21,"H":0.2,"To":1.3,"Ta":0.2,"Y":0.12,"K":0.7,"G":0.3,"N":0.18,"Ti":0.05},
{"t":22,"H":0.15,"To":1.0,"Ta":0.15,"Y":0.1,"K":0.3,"G":0.2,"N":0.15,"Ti":0.75},
{"t":23,"H":0.1,"To":2.0,"Ta":0.15,"Y":0.08,"K":0.2,"G":0.15,"N":0.2,"Ti":0.05},
{"t":24,"H":0.15,"To":2.2,"Ta":0.2,"Y":0.1,"K":0.3,"G":0.2,"N":0.2,"Ti":0.05},
{"t":25,"H":0.2,"To":2.2,"Ta":0.3,"Y":0.12,"K":0.6,"G":0.15,"N":0.22,"Ti":0.06},
{"t":26,"H":0.3,"To":2.2,"Ta":0.35,"Y":0.15,"K":0.75,"G":0.1,"N":0.25,"Ti":0.08},
{"t":27,"H":0.35,"To":3.3,"Ta":0.4,"Y":0.18,"K":0.3,"G":0.08,"N":0.2,"Ti":0.06},
{"t":28,"H":0.3,"To":2.3,"Ta":0.35,"Y":0.15,"K":0.5,"G":0.06,"N":0.18,"Ti":0.05},
{"t":29,"H":0.25,"To":2.4,"Ta":0.3,"Y":0.12,"K":0.85,"G":0.05,"N":0.2,"Ti":0.05},
{"t":30,"H":0.2,"To":2.7,"Ta":0.3,"Y":0.1,"K":0.8,"G":0.06,"N":0.22,"Ti":0.05},
{"t":31,"H":0.15,"To":1.7,"Ta":0.25,"Y":0.1,"K":0.7,"G":0.08,"N":0.25,"Ti":0.06},
{"t":32,"H":0.2,"To":1.8,"Ta":0.2,"Y":0.12,"K":0.75,"G":0.15,"N":0.2,"Ti":0.05},
{"t":33,"H":0.3,"To":0.9,"Ta":0.25,"Y":0.15,"K":0.7,"G":0.25,"N":0.18,"Ti":0.05},
{"t":34,"H":0.25,"To":2.3,"Ta":0.2,"Y":0.12,"K":0.75,"G":0.2,"N":0.2,"Ti":0.06},
{"t":35,"H":0.2,"To":2.3,"Ta":0.2,"Y":0.1,"K":0.3,"G":0.15,"N":0.22,"Ti":0.05},
{"t":36,"H":0.15,"To":3.1,"Ta":0.25,"Y":0.1,"K":0.6,"G":0.1,"N":0.2,"Ti":0.05},
{"t":37,"H":0.8,"To":1.1,"Ta":0.3,"Y":0.12,"K":0.85,"G":0.08,"N":0.18,"Ti":0.06},
{"t":38,"H":0.2,"To":0.5,"Ta":0.25,"Y":0.1,"K":0.3,"G":0.06,"N":0.2,"Ti":0.08},
{"t":39,"H":0.1,"To":0.55,"Ta":0.2,"Y":0.08,"K":0.2,"G":0.05,"N":0.22,"Ti":0.06},
{"t":40,"H":0.15,"To":1.2,"Ta":0.2,"Y":0.1,"K":0.4,"G":0.06,"N":0.25,"Ti":0.05},
{"t":41,"H":0.2,"To":2.55,"Ta":0.25,"Y":0.12,"K":0.6,"G":0.1,"N":0.2,"Ti":0.05},
{"t":42,"H":0.25,"To":1.3,"Ta":0.3,"Y":0.15,"K":1.1,"G":0.15,"N":0.18,"Ti":0.05},
{"t":43,"H":0.2,"To":2.1,"Ta":0.35,"Y":0.12,"K":0.9,"G":0.25,"N":0.2,"Ti":0.06},
{"t":44,"H":0.15,"To":0.9,"Ta":0.3,"Y":0.1,"K":0.6,"G":0.2,"N":0.22,"Ti":0.05},
{"t":45,"H":0.1,"To":1.5,"Ta":0.25,"Y":0.1,"K":0.7,"G":0.15,"N":0.2,"Ti":0.05},
{"t":46,"H":0.15,"To":2.0,"Ta":0.3,"Y":0.12,"K":1.05,"G":0.1,"N":0.18,"Ti":0.06},
{"t":47,"H":0.2,"To":2.6,"Ta":0.3,"Y":0.15,"K":0.5,"G":0.08,"N":0.2,"Ti":0.05},
{"t":48,"H":0.1,"To":2.2,"Ta":0.25,"Y":0.12,"K":0.2,"G":0.06,"N":0.22,"Ti":0.05},
{"t":49,"H":0.3,"To":2.8,"Ta":0.2,"Y":0.1,"K":0.3,"G":0.05,"N":0.25,"Ti":0.06},
{"t":50,"H":0.2,"To":2.9,"Ta":0.3,"Y":0.12,"K":0.4,"G":0.06,"N":0.2,"Ti":0.08},
{"t":51,"H":1.9,"To":2.9,"Ta":0.35,"Y":0.15,"K":0.6,"G":0.1,"N":0.18,"Ti":0.06},
{"t":52,"H":0.2,"To":1.2,"Ta":0.3,"Y":0.12,"K":0.3,"G":0.15,"N":0.2,"Ti":0.05},
{"t":53,"H":0.3,"To":1.7,"Ta":0.35,"Y":0.15,"K":0.5,"G":0.2,"N":0.22,"Ti":0.05},
{"t":54,"H":0.2,"To":1.4,"Ta":0.4,"Y":0.18,"K":0.4,"G":0.15,"N":0.2,"Ti":0.05},
{"t":55,"H":0.3,"To":1.4,"Ta":0.35,"Y":0.15,"K":0.5,"G":0.1,"N":0.18,"Ti":0.06},
{"t":56,"H":0.6,"To":3.1,"Ta":0.45,"Y":0.2,"K":1.05,"G":0.08,"N":0.2,"Ti":0.05}
]},
"transform":[{"fold":["H","To","Ta","Y","K","G","N","Ti"],"as":["r","v"]}],
"mark":{"type":"line"},
"encoding":{
"x":{"field":"t","type":"quantitative","scale":{"domain":[0,56],"nice":false,"zero":false},"axis":{"values":[0,12,24,36,48],"labelExpr":"['06/04','06/05','06/06','06/07','06/08'][datum.value/12]","title":"Month and River"}},
"y":{"field":"v","type":"quantitative","scale":{"domain":[0,6],"nice":false},"axis":{"values":[0,0.5,1,1.5,2,2.5,3,3.5,4,4.5,5,5.5,6],"format":".1~f","title":"Inflow Stream Flow (M³/S)"}},
"color":{"field":"r","type":"nominal","scale":{"domain":["H","To","Ta","Y","K","G","N","Ti"],"range":["#4F81BD","#C0504D","#9BBB59","#8064A2","#4BACC6","#F79646","#95B3D7","#D99694"]},"legend":{"orient":"none","legendX":140,"legendY":13,"title":null,"symbolType":"stroke","symbolSize":156,"symbolStrokeWidth":2,"rowPadding":0,"labelOffset":3,"labelFont":"Liberation Sans","labelFontSize":6.5,"labelColor":"#222","labelExpr":"['Hokota River','Tomoe River','Takeda River','Yamada River','Kura River','Gantsu River','Nagare River','Taiyo River'][indexof(['H','To','Ta','Y','K','G','N','Ti'],datum.label)]"}}
}}
]
}
